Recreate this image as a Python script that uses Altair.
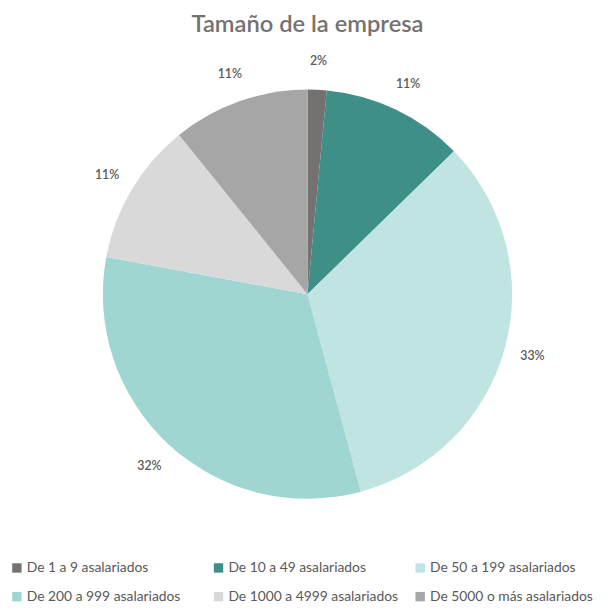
import altair as alt
import pandas as pd

categories = ["De 1 a 9 asalariados", "De 10 a 49 asalariados", "De 50 a 199 asalariados",
              "De 200 a 999 asalariados", "De 1000 a 4999 asalariados", "De 5000 o más asalariados"]
values = [1.5, 11.2, 33.1, 32.1, 11.3, 10.8]
labels = ["2%", "11%", "33%", "32%", "11%", "11%"]
colors = ["#767171", "#3E8F88", "#C0E4E1", "#A0D6D2", "#D9D9D9", "#A6A6A6"]

df = pd.DataFrame({"cat": categories, "value": values, "label": labels, "order": list(range(6))})

base = alt.Chart(df).encode(
    theta=alt.Theta("value:Q", stack=True),
    order=alt.Order("order:Q"),
)

pie = base.mark_arc(radius=207).encode(
    color=alt.Color("cat:N", sort=categories,
                    scale=alt.Scale(domain=categories, range=colors),
                    legend=alt.Legend(title=None, orient="none", legendX=-1, legendY=486,
                                      columns=3, direction="horizontal", gridAlign="all",
                                      symbolType="square", symbolSize=90, symbolStrokeWidth=0,
                                      labelFont="Lato", labelFontSize=14, labelColor="#595959",
                                      columnPadding=15, rowPadding=15, labelOffset=3,
                                      labelLimit=300))
)

text = base.mark_text(radius=236, font="Lato", fontSize=12.5, fontWeight=600,
                      color="#595959").encode(text="label:N")

chart = alt.layer(pie, text).properties(
    width=600, height=432,
    padding={"left": 3, "top": 70, "right": 0, "bottom": 100},
    autosize=alt.AutoSizeParams(type="none"),
    title=alt.TitleParams("Tamaño de la empresa", font="Lato", fontSize=24, fontWeight=600,
                          color="#767171", anchor="middle", frame="group", offset=19),
).configure_view(stroke=None)

chart.save("out.html", embed_options={"renderer": "svg", "actions": False})
